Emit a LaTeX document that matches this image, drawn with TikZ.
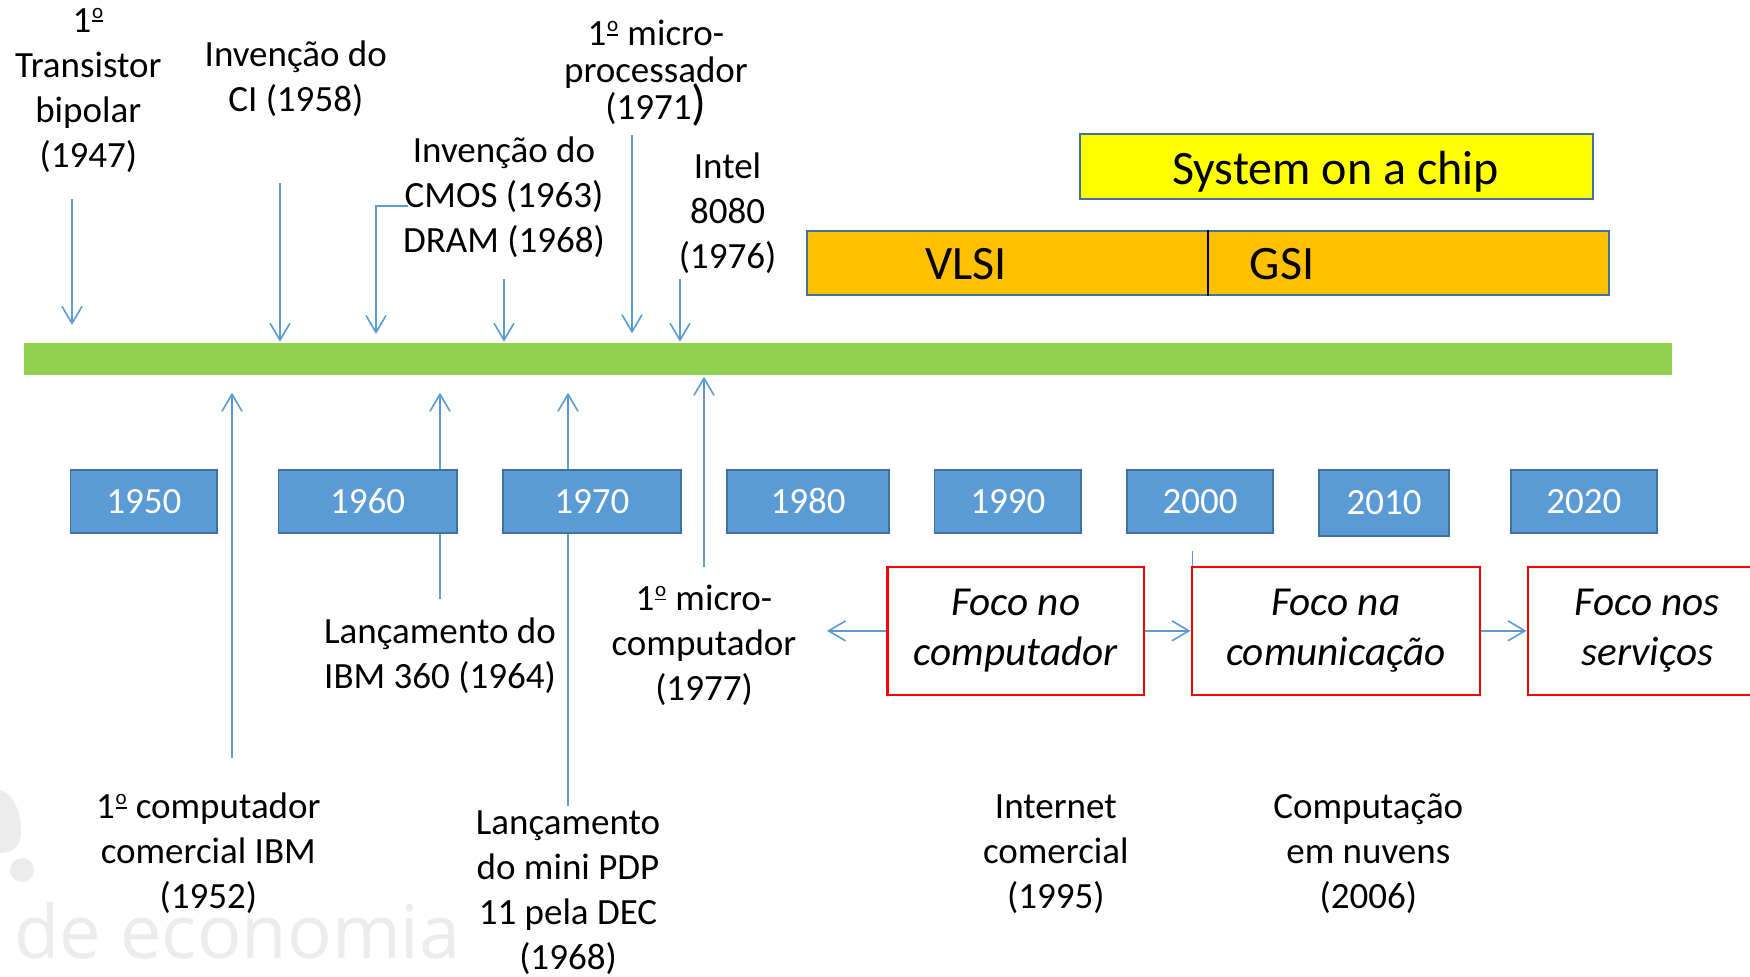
\documentclass[tikz,border=0pt]{standalone}
\usepackage{fontspec}
\setmainfont{Carlito}
\newfontfamily\wmfont{Open Sans}
\usetikzlibrary{arrows.meta}

\definecolor{linkblue}{HTML}{5B9BD5}
\definecolor{barGreen}{HTML}{92D050}
\definecolor{yearFill}{HTML}{5B9BD5}
\definecolor{yearEdge}{HTML}{41719C}
\definecolor{socYellow}{HTML}{FFFF00}
\definecolor{eraOrange}{HTML}{FFC000}
\definecolor{focusRed}{HTML}{FF0000}
\definecolor{wmGray}{HTML}{ECECEC}

\newcommand\lblfont{\fontsize{18.5}{22.5}\selectfont}
\newcommand\tightfont{\fontsize{18.5}{18.35}\selectfont\lineskiplimit=-20pt\relax}
\newcommand\focfont{\fontsize{20.6}{25}\selectfont\itshape}
\newcommand\erafont{\fontsize{24}{28}\selectfont}
% masculine ordinal: raised small o with a bar underneath
\newcommand\ordo{\kern0.4pt\raisebox{0.27em}{\vbox{\hbox{\fontsize{10.5}{10.5}\selectfont o}\kern0.9pt\hrule height 0.9pt}}\kern0.4pt}

\begin{document}
\begin{tikzpicture}[x=0.5pt,y=-0.5pt,
  conn/.style={draw=linkblue,line width=0.8pt,
    -{Straight Barb[length=8.5pt,width=10pt]}},
  plainlink/.style={draw=linkblue,line width=0.8pt},
  label/.style={align=center,inner sep=0pt,font=\lblfont},
  yearbox/.style={draw=yearEdge,fill=yearFill,line width=0.8pt,
    text=white,font=\lblfont,inner sep=0pt,minimum height=31.4pt},
  focusbox/.style={draw=focusRed,fill=white,line width=1.2pt,align=center,
    font=\focfont,inner sep=0pt,minimum height=64.15pt},
  erabox/.style={draw=yearEdge,line width=1pt,inner sep=0pt,minimum height=32.3pt},
  eratext/.style={anchor=base,inner sep=0pt,font=\erafont}
]
\useasboundingbox (0,0) rectangle (1750,976);
\clip (0,0) rectangle (1750,976);
\fill[white] (0,0) rectangle (1750,976);

% faint watermark in the lower left corner
\fill[wmGray] (0,790) .. controls (14,794) and (22,814) .. (21,834)
  .. controls (20,848) and (10,853) .. (0,853) -- cycle;
\fill[wmGray] (22,870) circle (12);
\node[anchor=base west,inner sep=0pt,text=wmGray,
  font=\wmfont\fontsize{37}{37}\selectfont] (wm) at (14,958) {de economia};

% timeline bar
\node[fill=barGreen,inner sep=0pt,minimum width=823.9pt,minimum height=16.15pt]
  (bar) at (847.9,358.85) {};

% event labels above the bar
\node[label] (Ltr)    at (88.3,90.5)   {\strut 1\ordo\\Transistor\\bipolar\\(1947)\strut};
\node[label] (Lci)    at (295.8,80.2)  {\strut Invenção do\\CI (1958)\strut};
\node[label] (Lcmos)  at (504,198.5)   {\strut Invenção do\\CMOS (1963)\\DRAM (1968)\strut};
\node[label,font=\tightfont] (Lproc) at (656,74.6)
  {\vrule height 12pt width 0pt 1\ordo{} micro-\\processador\\(1971\smash{\fontsize{24.5}{24.5}\selectfont)}\vrule depth 5pt width 0pt};
\node[label] (Lintel) at (727.5,214.3) {\strut Intel\\8080\\(1976)\strut};

% event labels below the bar
\node[label] (Lcomp)  at (208.3,854.7) {\strut 1\ordo{} computador\\comercial IBM\\(1952)\strut};
\node[label] (L360)   at (440,656.8)   {\strut Lançamento do\\IBM 360 (1964)\strut};
\node[label] (Lpdp)   at (568,892.7)   {\strut Lançamento\\do mini PDP\\11 pela DEC\\(1968)\strut};
\node[label] (Lmicro) at (704,646.4)   {\strut 1\ordo{} micro-\\computador\\(1977)\strut};
\node[label] (Lnet)   at (1055.8,854.3){\strut Internet\\comercial\\(1995)\strut};
\node[label] (Lcloud) at (1368.3,854.3){\strut Computação\\em nuvens\\(2006)\strut};

% arrow end points
\coordinate (tr-a) at (72,199);     \coordinate (tr-b) at (72,325);
\coordinate (ci-a) at (280,183);    \coordinate (ci-b) at (280,341.7);
\coordinate (cm-a) at (408.3,206);  \coordinate (cm-k) at (376,206);
\coordinate (cm-b) at (376,334);
\coordinate (dr-a) at (504,279);    \coordinate (dr-b) at (504,341.7);
\coordinate (pr-a) at (632,135);    \coordinate (pr-b) at (632,333.3);
\coordinate (in-a) at (680,279);    \coordinate (in-b) at (680,341.7);
\coordinate (co-a) at (232,758.3);  \coordinate (co-b) at (232,392.7);
\coordinate (ib-a) at (440,598.7);  \coordinate (ib-b) at (440,392.7);
\coordinate (pd-a) at (568,806);    \coordinate (pd-b) at (568,392.7);
\coordinate (mc-a) at (704,566.7);  \coordinate (mc-b) at (704,376.7);

\draw[conn] (tr-a) -- (tr-b);
\draw[conn] (ci-a) -- (ci-b);
\draw[conn] (cm-a) -- (cm-k) -- (cm-b);
\draw[conn] (dr-a) -- (dr-b);
\draw[conn] (pr-a) -- (pr-b);
\draw[conn] (in-a) -- (in-b);
\draw[conn] (co-a) -- (co-b);
\draw[conn] (ib-a) -- (ib-b);
\draw[conn] (pd-a) -- (pd-b);
\draw[conn] (mc-a) -- (mc-b);

% decade boxes
\node[yearbox,minimum width=73.2pt]  (y1950) at (143.8,501.4)  {1950};
\node[yearbox,minimum width=89.3pt]  (y1960) at (367.7,501.4)  {1960};
\node[yearbox,minimum width=89pt]    (y1970) at (591.9,501.4)  {1970};
\node[yearbox,minimum width=81.2pt]  (y1980) at (808,501.4)    {1980};
\node[yearbox,minimum width=73.2pt]  (y1990) at (1007.8,501.4) {1990};
\node[yearbox,minimum width=73pt]    (y2000) at (1200,501.4)   {2000};
\node[yearbox,minimum width=65pt,minimum height=32.85pt] (y2010) at (1384,502.85) {2010};
\node[yearbox,minimum width=72.85pt] (y2020) at (1583.9,501.4) {2020};

% technology eras
\node[erabox,fill=socYellow,minimum width=256.6pt,minimum height=32.5pt] (soc) at (1336.1,166.8) {};
\node[eratext] (socT) at (1335.5,184) {System on a chip};
\node[erabox,fill=eraOrange,minimum width=400.7pt] (era) at (1208,262.85) {};
\draw[black,line width=1.2pt] (era.north) -- (era.south);
\node[eratext] (vlsiT) at (965.8,279.3) {VLSI};
\node[eratext] (gsiT)  at (1282,279.3)  {GSI};

% focus boxes
\node[focusbox,minimum width=128.2pt]  (R1) at (1015.8,630.85)  {\strut Foco no\\computador\strut};
\node[focusbox,minimum width=144.15pt] (R2) at (1335.85,630.85) {\strut Foco na\\comunicação\strut};
\node[focusbox,minimum width=119.65pt] (R3) at (1647.35,630.85) {\strut Foco nos\\serviços\strut};

\coordinate (R1tip) at (827,630.85);
\draw[conn] (R1.west) -- (R1tip);
\draw[conn] (R1.east) -- (R2.west);
\draw[conn] (R2.east) -- (R3.west);

\coordinate (tick) at (1192.3,551);
\draw[plainlink] (tick) -- (tick |- R2.north);
\end{tikzpicture}
\end{document}
